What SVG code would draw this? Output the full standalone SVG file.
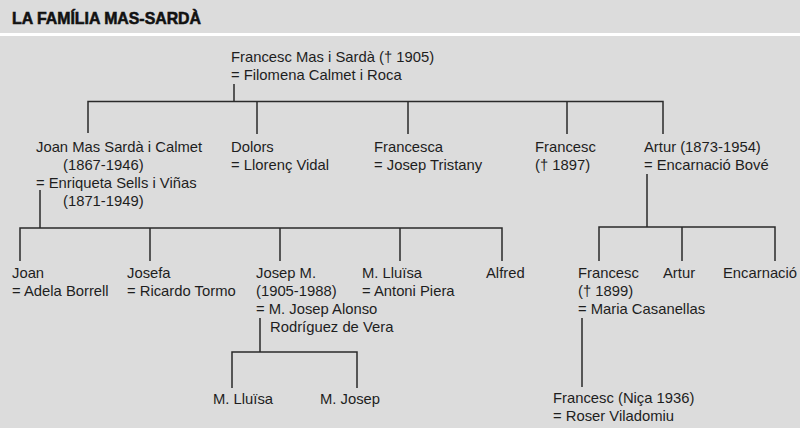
<svg xmlns="http://www.w3.org/2000/svg" width="800" height="428" viewBox="0 0 800 428">
<style>
text{font-family:"Liberation Sans",Arial,sans-serif;font-size:14.8px;fill:#1e1e1e}
.title{font-weight:bold;font-size:17px;fill:#111;stroke:#111;stroke-width:0.6}
.ln{stroke:#2a2a2a;stroke-width:1.5;fill:none}
</style>
<rect x="0" y="0" width="800" height="428" fill="#dcdcdc"/>
<rect x="0" y="33" width="800" height="3" fill="#ffffff"/>
<text class="title" x="12" y="24" textLength="189" lengthAdjust="spacingAndGlyphs">LA FAMÍLIA MAS-SARDÀ</text>
<g id="connectors">
<path class="ln" d="M234 84V101.5M88 133V101.5H663V134M257 101.5V134M408 101.5V134M567 101.5V134"/>
<path class="ln" d="M40 190V228M20 261V228H502V261M150 228V261M280 228V261M400 228V261"/>
<path class="ln" d="M647 174V227M599 261V227H775V261M682 227V261"/>
<path class="ln" d="M260 318V352M232 388V352H357V388"/>
<path class="ln" d="M582 318V387"/>
</g>
<g id="root"><text x="231" y="62">Francesc Mas i Sardà († 1905)</text><text x="231" y="80">= Filomena Calmet i Roca</text></g>
<g id="joan-mas"><text x="36" y="152">Joan Mas Sardà i Calmet</text><text x="63" y="170">(1867-1946)</text><text x="36" y="188">= Enriqueta Sells i Viñas</text><text x="63" y="206">(1871-1949)</text></g>
<g id="dolors"><text x="231" y="152">Dolors</text><text x="231" y="170">= Llorenç Vidal</text></g>
<g id="francesca"><text x="374" y="152">Francesca</text><text x="374" y="170">= Josep Tristany</text></g>
<g id="francesc-1897"><text x="535" y="152">Francesc</text><text x="535" y="170">(† 1897)</text></g>
<g id="artur"><text x="644" y="152">Artur (1873-1954)</text><text x="644" y="170">= Encarnació Bové</text></g>
<g id="joan"><text x="12" y="278">Joan</text><text x="12" y="296">= Adela Borrell</text></g>
<g id="josefa"><text x="127" y="278">Josefa</text><text x="127" y="296">= Ricardo Tormo</text></g>
<g id="josep-m"><text x="256" y="278">Josep M.</text><text x="256" y="296">(1905-1988)</text><text x="256" y="314">= M. Josep Alonso</text><text x="270" y="332">Rodríguez de Vera</text></g>
<g id="m-lluisa"><text x="362" y="278">M. Lluïsa</text><text x="362" y="296">= Antoni Piera</text></g>
<g id="alfred"><text x="486" y="278">Alfred</text></g>
<g id="francesc-1899"><text x="578" y="278">Francesc</text><text x="578" y="296">(† 1899)</text><text x="578" y="314">= Maria Casanellas</text></g>
<g id="artur-jr"><text x="663" y="278">Artur</text></g>
<g id="encarnacio"><text x="723" y="278">Encarnació</text></g>
<g id="m-lluisa-2"><text x="213" y="404">M. Lluïsa</text></g>
<g id="m-josep"><text x="320" y="404">M. Josep</text></g>
<g id="francesc-1936"><text x="553" y="403">Francesc (Niça 1936)</text><text x="553" y="421">= Roser Viladomiu</text></g>
</svg>
